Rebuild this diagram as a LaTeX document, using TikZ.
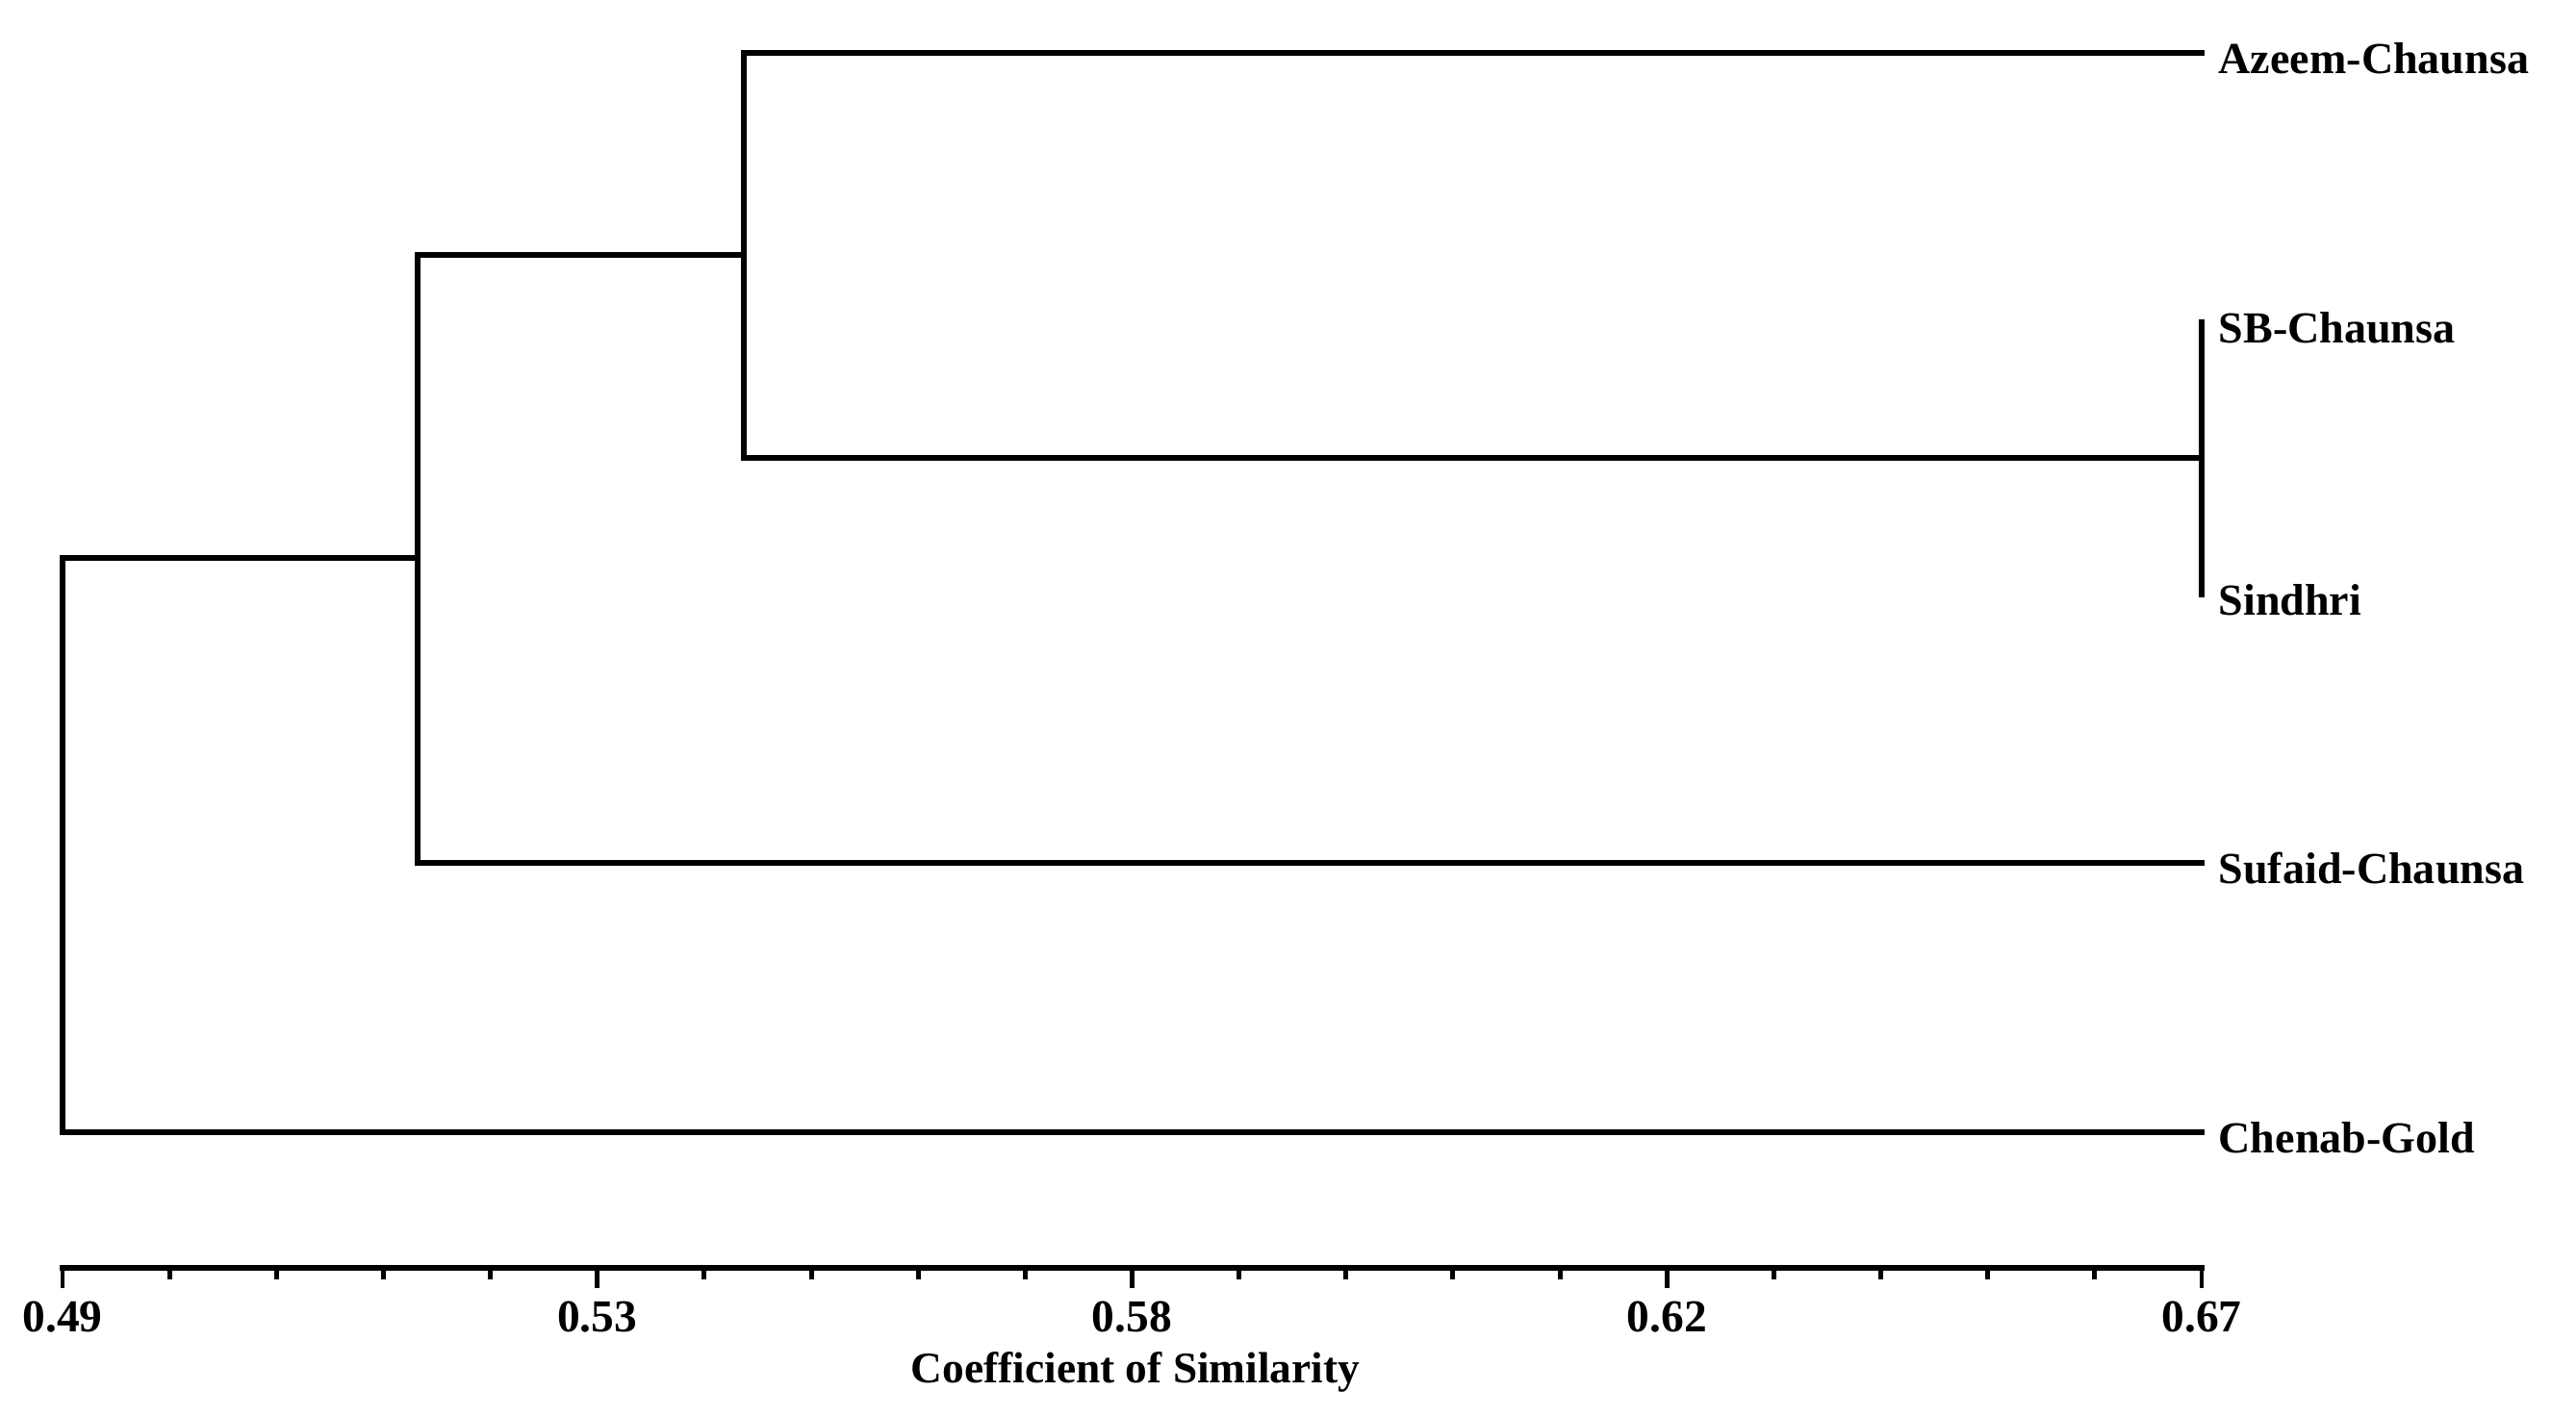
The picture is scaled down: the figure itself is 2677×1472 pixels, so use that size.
\documentclass[tikz,border=0pt]{standalone}
\usepackage{fontspec}
\setmainfont{Liberation Serif}
\begin{document}
\begin{tikzpicture}[x=0.01cm, y=-0.01cm,
  branch/.style={line width=1.7pt, line join=miter, line cap=rect},
  axisline/.style={line width=1.7pt, line cap=rect},
  tickline/.style={line width=1.4pt},
  leaf/.style={anchor=west, inner xsep=0.17cm, inner ysep=0pt, font=\fontsize{13.1}{15}\selectfont\bfseries, text height=12pt, text depth=0pt},
  ticklabel/.style={anchor=center, inner sep=0pt, font=\fontsize{13.5}{15}\selectfont\bfseries},
  axistitle/.style={anchor=base, inner sep=0pt, font=\fontsize{12.9}{14}\selectfont\bfseries}]
\useasboundingbox (0,0) rectangle (2677,1472);
% leaves
\node[leaf] (az) at (2288,55) {Azeem-Chaunsa};
\node[leaf] (sb) at (2288,335) {SB-Chaunsa};
\node[leaf] (si) at (2288,618) {Sindhri};
\node[leaf] (su) at (2288,897) {Sufaid-Chaunsa};
\node[leaf] (ch) at (2288,1177) {Chenab-Gold};
% internal joints
\coordinate (j23) at (2288,476);
\coordinate (n3) at (773,265);
\coordinate (n2) at (434,580);
\coordinate (r) at (65,880);
% branches
\draw[branch] (sb.west) -- (si.west);
\draw[branch] (az.west) -| (n3) |- (j23);
\draw[branch] (n3) -| (n2) |- (su.west);
\draw[branch] (n2) -| (r) |- (ch.west);
% axis
\coordinate (a0) at (65,1318);
\coordinate (a1) at (2288,1318);
\draw[axisline] (a0) -- (a1);
\foreach \k in {0,...,20}{
  \pgfmathsetmacro{\xx}{65+\k*111.15}
  \pgfmathtruncatemacro{\mj}{mod(\k,5)==0 ? 1 : 0}
  \ifnum\mj=1
    \draw[tickline] (\xx,1318) -- (\xx,1339);
  \else
    \draw[tickline] (\xx,1318) -- (\xx,1330);
  \fi
}
\node[ticklabel] (t0) at (65,1369) {0.49};
\node[ticklabel] (t1) at (620.75,1369) {0.53};
\node[ticklabel] (t2) at (1176.5,1369) {0.58};
\node[ticklabel] (t3) at (1732.25,1369) {0.62};
\node[ticklabel] (t4) at (2288,1369) {0.67};
\node[axistitle] (title) at (1180,1437) {Coefficient of Similarity};
\end{tikzpicture}
\end{document}
